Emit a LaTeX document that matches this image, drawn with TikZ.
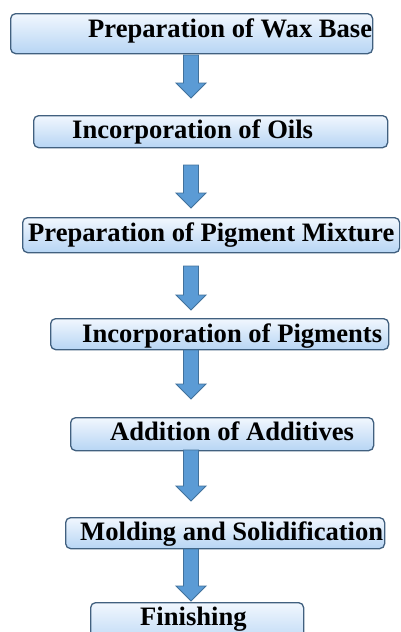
\documentclass[tikz,border=0pt]{standalone}
\usepackage{fontspec}
\setmainfont{Liberation Serif}
\usetikzlibrary{calc}
\definecolor{boxtop}{HTML}{F1F7FE}
\definecolor{boxbot}{HTML}{B7D5F4}
\definecolor{boxedge}{HTML}{41607F}
\definecolor{arrowfill}{HTML}{5B9BD5}
\definecolor{arrowedge}{HTML}{41719C}
\tikzset{stepbox/.style={draw=boxedge,line width=1.3pt,rounded corners=5pt,top color=boxtop,bottom color=boxbot,anchor=north west,inner sep=0pt},
steptext/.style={font=\fontsize{26.6}{30}\selectfont\bfseries,anchor=base west,inner sep=0pt},
barrow/.style={draw=arrowedge,fill=arrowfill,line width=.9pt,line join=miter}}
\newcommand{\blockarrow}[2]{\draw[barrow] let \p1=(#1),\p2=(#2) in (\x1-7.5pt,\y1)--(\x1+7.5pt,\y1)--(\x1+7.5pt,\y2+15pt)--(\x1+15pt,\y2+15pt)--(\x2,\y2)--(\x1-15pt,\y2+15pt)--(\x1-7.5pt,\y2+15pt)--cycle;}

\begin{document}
\begin{tikzpicture}[x=1pt,y=-1pt]
\useasboundingbox (0,0) rectangle (400,632);\clip (0,0) rectangle (400,632);
% boxes: name/left/top/width/height
\foreach \n/\x/\y/\w/\h in {b1/10/13/362/40,b2/33/115/354/32,b3/22/217/377/35,b4/50/318/338/31,b5/70/417/303/33,b6/65/517/319/31,b7/90/602/213/45}{\node[stepbox,minimum width=\w pt,minimum height=\h pt] (\n) at (\x,\y){};}
% texts
\node[steptext] (t1) at (88,37){Preparation of Wax Base};
\node[steptext] (t2) at (72,138){Incorporation of Oils};
\node[steptext] (t3) at (28,241){Preparation of Pigment Mixture};
\node[steptext] (t4) at (82,342){Incorporation of Pigments};
\node[steptext] (t5) at (110,440){Addition of Additives};
\node[steptext] (t6) at (80,540){Molding and Solidification};
\node[steptext] (t7) at (140,625){Finishing};
% arrows
\foreach \i/\ya/\yb in {1/55/98,2/165/208,3/266/310,4/350/399,5/450/501,6/549/601}{\coordinate (s\i) at (191,\ya);\coordinate (e\i) at (191,\yb);\blockarrow{s\i}{e\i}}
\end{tikzpicture}
\end{document}
